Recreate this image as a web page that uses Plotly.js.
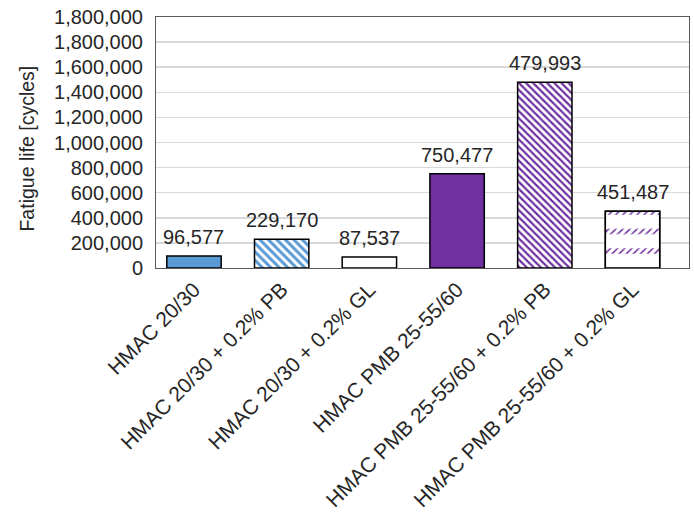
<!DOCTYPE html>
<html>
<head>
<meta charset="utf-8">
<script src="https://cdn.plot.ly/plotly-3.0.1.min.js"></script>
<style>html,body{margin:0;padding:0;background:#fff;}#chart{width:694px;height:516px;}</style>
</head>
<body>
<div id="chart"></div>
<script>
const categories = [
  "HMAC 20/30",
  "HMAC 20/30 + 0.2% PB",
  "HMAC 20/30 + 0.2% GL",
  "HMAC PMB 25-55/60",
  "HMAC PMB 25-55/60 + 0.2% PB",
  "HMAC PMB 25-55/60 + 0.2% GL"
];
const fatigueLife = [96577, 229170, 87537, 750477, 1479993, 451487];
const valueLabels = ["96,577", "229,170", "87,537", "750,477", "479,993", "451,487"];
const yTickVals = [0, 200000, 400000, 600000, 800000, 1000000, 1200000, 1400000, 1600000, 1800000, 2000000];
const yTickText = ["0", "200,000", "400,000", "600,000", "800,000", "1,000,000", "1,200,000", "1,400,000", "1,600,000", "1,800,000", "1,800,000"];

const BLUE = "#5B9BD5", PURPLE = "#7030A0", WHITE = "#ffffff";
const FONT = "Liberation Sans, Arial, sans-serif";
const TXT = "#262626";

// scalar marker.color so that the per-bar pattern colours are honoured
const barMain = {
  type: "bar",
  x: categories,
  y: fatigueLife,
  width: 0.62,
  hoverinfo: "none",
  marker: {
    color: WHITE,
    line: {color: "#000000", width: 1.5},
    pattern: {
      shape: ["-", "\\", "-", "-", "\\", "/"],
      fgcolor: [BLUE, BLUE, WHITE, PURPLE, PURPLE, PURPLE],
      bgcolor: [BLUE, WHITE, WHITE, PURPLE, WHITE, WHITE],
      fgopacity: 1,
      size: [6, 6, 6, 6, 5, 5],
      solidity: [0.5, 0.5, 0.5, 0.5, 0.45, 0.3],
      fillmode: "replace"
    }
  }
};
// white horizontal bands over the last bar give Excel's dashed-diagonal look
const barMask = {
  type: "bar",
  x: categories,
  y: fatigueLife.map((v, i) => i === 5 ? v : null),
  width: 0.62,
  hoverinfo: "none",
  marker: {
    color: "rgba(0,0,0,0)",
    line: {color: "#000000", width: 1.5},
    pattern: {shape: "-", fgcolor: WHITE, bgcolor: "rgba(0,0,0,0)", fgopacity: 1, size: 19.5, solidity: 0.72, fillmode: "replace"}
  }
};

const annotations = categories.map((c, i) => ({
  x: c, y: fatigueLife[i], xref: "x", yref: "y",
  text: valueLabels[i], showarrow: false,
  yanchor: "bottom", xanchor: "center", yshift: 6,
  font: {family: FONT, size: 20, color: TXT}
}));
annotations.push({
  xref: "paper", yref: "paper", x: -0.242, y: 0.476,
  text: "Fatigue life [cycles]", textangle: -90, showarrow: false,
  xanchor: "center", yanchor: "middle",
  font: {family: FONT, size: 19.5, color: TXT}
});

const layout = {
  width: 694, height: 516,
  margin: {l: 156, r: 5, t: 17, b: 248},
  paper_bgcolor: "#ffffff", plot_bgcolor: "#ffffff",
  barmode: "overlay",
  showlegend: false,
  font: {family: FONT, color: TXT},
  xaxis: {
    type: "category",
    range: [-0.433, 5.644],
    tickangle: -45,
    tickfont: {family: FONT, size: 21, color: TXT},
    showgrid: false, zeroline: false,
    showline: true, linecolor: "#595959", linewidth: 1, mirror: true,
    ticks: "", automargin: false
  },
  yaxis: {
    range: [0, 2000000],
    tickmode: "array", tickvals: yTickVals, ticktext: yTickText,
    tickfont: {family: FONT, size: 20, color: TXT},
    showgrid: true, gridcolor: "#d9d9d9", gridwidth: 1.5,
    zeroline: false,
    showline: true, linecolor: "#595959", linewidth: 1, mirror: true,
    ticks: "", ticklabelstandoff: 8, automargin: false
  },
  annotations: annotations
};

Plotly.newPlot("chart", [barMain, barMask], layout, {staticPlot: true, displayModeBar: false});
</script>
</body>
</html>
